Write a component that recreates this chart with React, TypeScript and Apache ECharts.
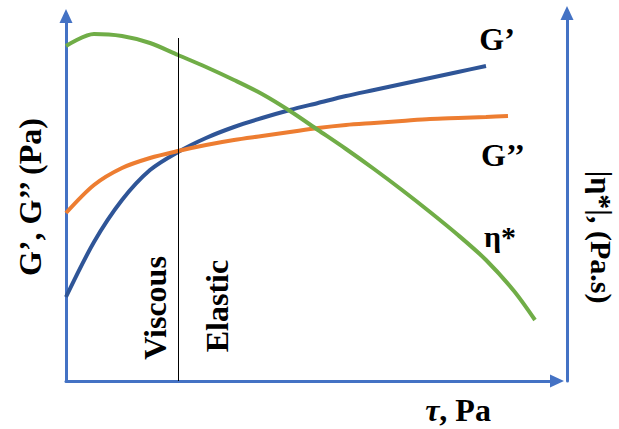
import React, { useEffect, useRef } from "react";
import * as echarts from "echarts";

// Schematic rheology chart (arbitrary units, no ticks)
const tau = [0, 28, 56, 84, 112, 140, 168, 196, 224, 252, 280, 308, 336, 364, 392, 420, 442, 448, 469];

const gPrimeX = tau.slice(0, 16);
const gPrimeY = [84, 139, 181, 211, 229, 243, 254, 263, 271, 278, 285, 291, 297, 303, 309, 315];

const gDoubleX = tau.slice(0, 17);
const gDoubleY = [168, 196, 213, 223, 230, 236, 241, 245, 249, 253, 256, 258, 260, 262, 263, 264, 265];

const etaX = [...tau.slice(0, 16), 448, 469];
const etaY = [335, 347, 345, 338, 326, 314, 301, 287, 270, 251, 232, 212, 191, 169, 146, 121, 90, 61];

const transitionX = 112;
const transitionYRange = [0, 343];

const xMax = 491;
const yLeftMax = 365;
const xMax2 = 501;
const yRightMax = 368;

const AXIS_BLUE = "#4472C4";
const SERIF = "'Liberation Serif', 'Times New Roman', serif";

const zip = (xs: number[], ys: number[]) => xs.map((x, i) => [x, ys[i]]);

export default function App() {
  const ref = useRef<HTMLDivElement>(null);
  useEffect(() => {
    if (!ref.current) return;
    const chart = echarts.init(ref.current, null, { renderer: "svg" });
    const axisLine = {
      show: true,
      onZero: false,
      lineStyle: { color: AXIS_BLUE, width: 3 },
      symbol: ["none", "triangle"],
      symbolSize: [13, 14],
    };
    const hidden = {
      axisTick: { show: false },
      axisLabel: { show: false },
      splitLine: { show: false },
    };
    const lineCommon = {
      type: "line",
      smooth: 0.3,
      showSymbol: false,
    };
    const label = (text: string, x: number, y: number, size: number, rotation = 0) => ({
      type: "text",
      x,
      y,
      rotation,
      style: {
        text,
        font: `bold ${size}px ${SERIF}`,
        fill: "#000",
        align: "center",
        verticalAlign: "middle",
      },
    });
    chart.setOption({
      animation: false,
      backgroundColor: "#ffffff",
      grid: [
        { left: 66, right: 62, top: 16, bottom: 48 },
        { left: 66, right: 52, top: 13, bottom: 48 },
      ],
      xAxis: [
        { type: "value", gridIndex: 0, min: 0, max: xMax, axisLine, ...hidden },
        { type: "value", gridIndex: 1, min: 0, max: xMax2, show: false },
      ],
      yAxis: [
        { type: "value", gridIndex: 0, min: 0, max: yLeftMax, axisLine, ...hidden },
        {
          type: "value",
          gridIndex: 1,
          position: "right",
          min: 0,
          max: yRightMax,
          axisLine,
          ...hidden,
        },
      ],
      series: [
        {
          ...lineCommon,
          name: "G'",
          xAxisIndex: 0,
          yAxisIndex: 0,
          data: zip(gPrimeX, gPrimeY),
          lineStyle: { color: "#2F5597", width: 4 },
          markLine: {
            silent: true,
            symbol: "none",
            label: { show: false },
            lineStyle: { color: "#000000", width: 1, type: "solid" },
            data: [
              [
                { coord: [transitionX, transitionYRange[0]] },
                { coord: [transitionX, transitionYRange[1]] },
              ],
            ],
          },
        },
        {
          ...lineCommon,
          name: "G''",
          xAxisIndex: 0,
          yAxisIndex: 0,
          data: zip(gDoubleX, gDoubleY),
          lineStyle: { color: "#ED7D31", width: 4 },
        },
        {
          ...lineCommon,
          name: "η*",
          xAxisIndex: 1,
          yAxisIndex: 1,
          data: zip(etaX, etaY),
          lineStyle: { color: "#70AD47", width: 4 },
        },
      ],
      graphic: [
        label("G’, G’’ (Pa)", 30, 197, 32, Math.PI / 2),
        label("|η*|, (Pa.s)", 601, 237, 30, -Math.PI / 2),
        {
          type: "text",
          x: 458,
          y: 410,
          style: {
            rich: {
              t: { font: `italic bold 32px ${SERIF}`, fill: "#000", lineHeight: 30 },
              p: { font: `bold 32px ${SERIF}`, fill: "#000", lineHeight: 30 },
            },
            text: "{t|τ}{p|, Pa}",
            align: "center",
            verticalAlign: "middle",
          },
        },
        label("Viscous", 155, 308, 32, Math.PI / 2),
        label("Elastic", 217, 306, 32, Math.PI / 2),
        label("G’", 497, 39, 32),
        label("G’’", 503, 155, 32),
        label("η*", 500, 236, 30),
      ],
    });
    return () => chart.dispose();
  }, []);
  return <div ref={ref} style={{ width: 619, height: 429, position: "absolute", left: 0, top: 0 }} />;
}
